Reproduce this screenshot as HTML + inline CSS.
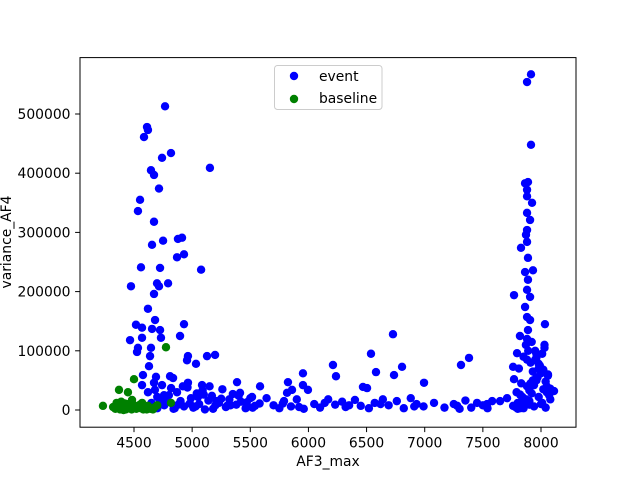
<!DOCTYPE html>
<html><head><meta charset="utf-8"><style>
body{margin:0;background:#fff}
svg{display:block;font-family:"DejaVu Sans","Liberation Sans",sans-serif}
</style></head><body>
<svg id="chart" width="640" height="480"></svg>
<script>
const eventX=[4767,4612,4620,4586,4818,4741,5153,4646,4672,4715,4552,4534,4672,4750,4655,4878,4913,4930,4870,5077,4560,4724,4474,4698,4793,4715,4672,4620,4681,4517,4569,4930,4655,4724,4466,4569,4896,4732,4534,4646,4526,4638,4964,5128,5197,4956,5033,4629,4577,4689,4810,4836,4569,4672,4741,4819,4964,5085,5150,5584,5386,4758,5412,5515,
4600,4650,4700,4720,4760,4800,4840,4870,4900,4930,4960,4990,5010,5040,5060,5090,5110,5140,5170,5200,5230,5260,5290,5320,5350,5380,5420,5460,5500,5540,5580,4620,4700,4780,4850,4920,4980,5030,5100,5180,5250,5330,5400,5470,5520,4680,4880,5050,5210,5300,
6727,6538,6211,7381,7312,5953,6237,6581,6805,6736,6994,5824,5953,5996,5859,5816,6469,6504,
5640,5700,5750,5790,5850,5900,5960,6050,6100,6170,6230,6290,6320,6400,6450,6520,6570,6640,6690,6760,6820,6880,6930,6990,7080,7250,7300,7350,7400,7450,7500,7540,7580,5780,5920,6140,6350,6620,6910,7170,7280,
7914,7880,7914,7888,7863,7880,7880,7923,7880,7906,7880,7871,7880,7828,7888,7863,7931,7888,7880,7906,7768,7863,7880,7906,8034,7819,7888,7794,7760,7768,8112,7536,7648,7708,
7780,7800,7820,7840,7860,7880,7900,7920,7940,7960,7980,8000,8020,8040,8060,8080,7790,7810,7830,7850,7870,7890,7910,7930,7950,7970,7990,8010,8030,8050,8070,7800,7840,7880,7920,7960,8000,8040,8080,7820,7860,7900,7940,7980,8020,8060,7760,7850,7950,8050,7880,7930,7980,8030,7870,7910,7960,8010,7840,7900,7960,8020];
const eventY=[513000,478000,473000,461000,434000,426000,409000,405000,397000,374000,355000,336000,318000,286000,279000,289000,291000,263000,258000,237000,241000,240000,209000,214000,214000,209000,196000,171000,152000,144000,139000,145000,137000,135000,118000,122000,125000,122000,105000,105000,98000,91000,91000,91000,93000,84000,78000,74000,59000,56000,57000,54000,42000,46000,42000,37000,46000,42000,40000,40000,47000,25000,29000,22000,
5000,12000,3000,18000,8000,25000,2000,30000,15000,6000,38000,20000,4000,28000,10000,33000,1000,16000,24000,8000,12000,35000,5000,18000,27000,9000,14000,3000,20000,7000,11000,30000,22000,14000,3000,40000,11000,6000,26000,2000,19000,8000,24000,13000,4000,34000,9000,22000,15000,7000,
128000,95000,76000,88000,76000,62000,57000,64000,73000,59000,46000,47000,42000,34000,34000,29000,39000,37000,
20000,8000,3000,15000,6000,18000,2000,10000,4000,18000,9000,14000,5000,17000,7000,3000,12000,18000,8000,15000,3000,20000,10000,6000,12000,10000,2000,16000,4000,12000,8000,3000,15000,11000,5000,12000,8000,10000,6000,4000,7000,
567000,554000,448000,385000,383000,372000,361000,350000,333000,321000,304000,296000,284000,274000,257000,233000,236000,220000,203000,191000,194000,174000,157000,152000,145000,125000,135000,96000,73000,52000,32000,10000,15000,20000,
5000,12000,3000,20000,8000,40000,15000,28000,6000,50000,22000,10000,35000,4000,60000,18000,30000,70000,45000,90000,110000,100000,80000,65000,85000,55000,75000,95000,105000,40000,25000,2000,14000,120000,115000,88000,62000,48000,36000,26000,16000,9000,42000,78000,68000,58000,7000,3000,100000,30000,85000,50000,70000,110000,18000,45000,95000,12000,22000,33000,55000,65000];
const baseX=[4775,4500,4371,4448,4233,4818,4663,4483,4320,4340,4360,4380,4400,4420,4440,4460,4480,4500,4520,4540,4560,4580,4600,4620,4640,4660,4680,4700,4350,4390,4430,4470,4510,4550,4590,4630,4410,4450,4570,4610];
const baseY=[106000,52000,34000,30000,7000,12000,1000,17000,5000,2000,9000,1000,4000,11000,3000,6000,1000,8000,2000,5000,3000,1000,4000,7000,2000,3000,5000,8000,12000,14000,1000,3000,6000,9000,2000,4000,0,10000,12000,1000];
const xTicks=[4500,5000,5500,6000,6500,7000,7500,8000];
const yTicks=[0,100000,200000,300000,400000,500000];

const svg=document.getElementById('chart');
const NS='http://www.w3.org/2000/svg';
const L=80,R=576,T=57.6,B=427.2;
const FS=13.89;
const xs=v=>134+(v-4500)*(407/3500);
const ys=v=>410-v*(296/500000);
function mk(tag,attrs,parent){const e=document.createElementNS(NS,tag);for(const k in attrs)e.setAttribute(k,attrs[k]);(parent||svg).appendChild(e);return e;}

const gEv=mk('g',{});


for(let i=0;i<eventX.length;i++){const c=mk('circle',{cx:xs(eventX[i]),cy:ys(eventY[i]),r:4.2,fill:'#0000ff'},gEv);

}
const gBa=mk('g',{});


for(let i=0;i<baseX.length;i++){const c=mk('circle',{cx:xs(baseX[i]),cy:ys(baseY[i]),r:4.2,fill:'#008000'},gBa);

}

const frame=mk('rect',{x:L,y:T,width:R-L,height:B-T,fill:'none',stroke:'#000','stroke-width':1});


for(const t of xTicks){const x=xs(t);mk('line',{x1:x,x2:x,y1:B,y2:B+4.9,stroke:'#000'});
const tx=mk('text',{x:x,y:447.5,'font-size':FS,'text-anchor':'middle',fill:'#000'});tx.textContent=t;

}
for(const t of yTicks){const y=ys(t);mk('line',{x1:L-4.9,x2:L,y1:y,y2:y,stroke:'#000'});
const tx=mk('text',{x:70.5,y:y+5,'font-size':FS,'text-anchor':'end',fill:'#000'});tx.textContent=t;

}
const xl=mk('text',{x:328,y:466,'font-size':FS,'text-anchor':'middle'});xl.textContent='AF3_max';


const yl=mk('text',{x:0,y:0,'font-size':FS,'text-anchor':'middle',transform:'translate(11,242) rotate(-90)'});yl.textContent='variance_AF4';



const lg=mk('g',{});


mk('rect',{x:274.5,y:65.5,width:107.5,height:44,rx:3,fill:'#fff','fill-opacity':0.8,stroke:'#ccc'},lg);
const e1=mk('circle',{cx:294,cy:76,r:4.2,fill:'#0000ff'},lg);


const t1=mk('text',{x:319,y:81,'font-size':FS},lg);t1.textContent='event';


const e2=mk('circle',{cx:294,cy:99,r:4.2,fill:'#008000'},lg);


const t2=mk('text',{x:319,y:103,'font-size':FS},lg);t2.textContent='baseline';


</script>
</body></html>
